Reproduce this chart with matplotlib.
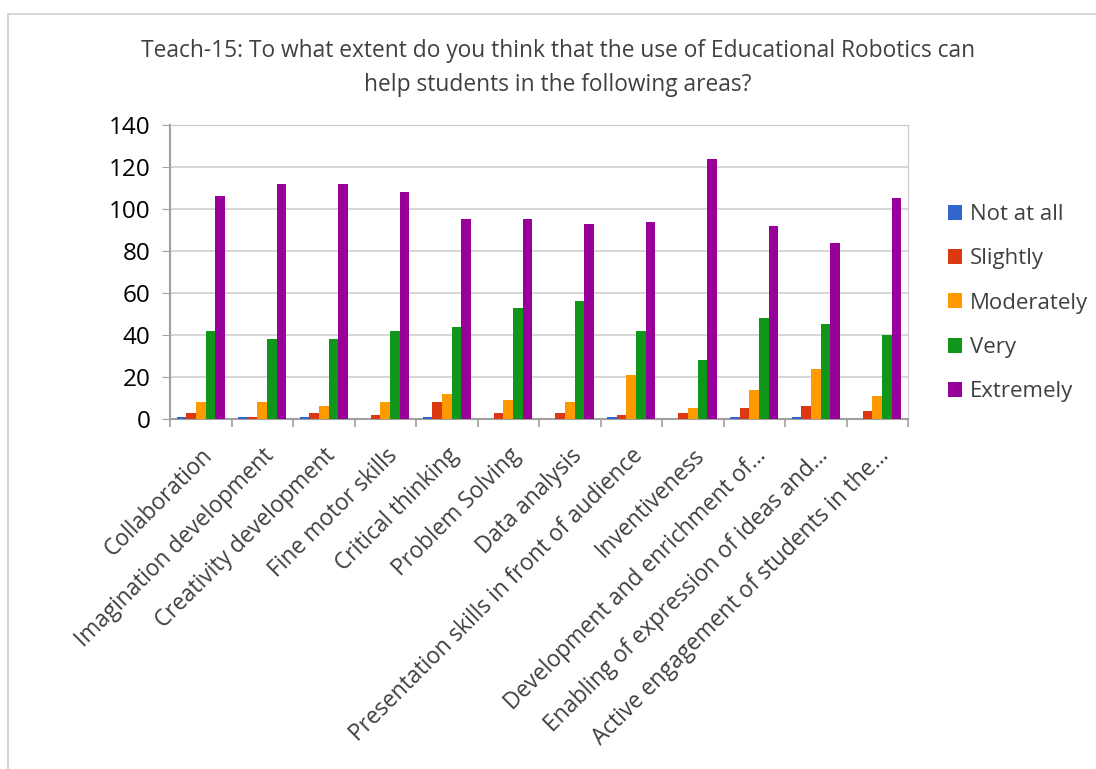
import matplotlib
matplotlib.use("Agg")
import matplotlib.pyplot as plt
import numpy as np
from matplotlib.patches import Rectangle

plt.rcParams['font.family'] = ['Open Sans', 'DejaVu Sans']

categories = ["Collaboration", "Imagination development", "Creativity development",
              "Fine motor skills", "Critical thinking", "Problem Solving", "Data analysis",
              "Presentation skills in front of audience", "Inventiveness",
              "Development and enrichment of…", "Enabling of expression of ideas and…",
              "Active engagement of students in the…"]
series_names = ["Not at all", "Slightly", "Moderately", "Very", "Extremely"]
not_at_all = [1, 1, 1, 0, 1, 0, 0, 1, 0, 1, 1, 0]
slightly = [3, 1, 3, 2, 8, 3, 3, 2, 3, 5, 6, 4]
moderately = [8, 8, 6, 8, 12, 9, 8, 21, 5, 14, 24, 11]
very = [42, 38, 38, 42, 44, 53, 56, 42, 28, 48, 45, 40]
extremely = [106, 112, 112, 108, 95, 95, 93, 94, 124, 92, 84, 105]
colors = ["#3366CC", "#DC3912", "#FF9900", "#109618", "#990099"]

data = [not_at_all, slightly, moderately, very, extremely]

fig = plt.figure(figsize=(10.96, 7.69), dpi=100)
fig.patches.append(Rectangle((8/1096, -0.01), 1.1, 1 - 14/769 + 0.01, transform=fig.transFigure,
                             fill=False, edgecolor="#D0D0D0", linewidth=1.2))
ax = fig.add_axes([170/1096, 1 - 419/769, (908 - 170)/1096, (419 - 125)/769])

n = len(categories)
x = np.arange(n)
w = 0.155
for i, (vals, c, name) in enumerate(zip(data, colors, series_names)):
    ax.bar(x + (i - 2) * w, vals, width=w, color=c, label=name, zorder=3)

ax.set_xlim(-0.5, n - 0.5)
ax.set_ylim(0, 140)
ax.set_yticks(np.arange(0, 141, 20))
ax.tick_params(axis='y', labelsize=17.5, length=6, color="#A0A0A0", pad=8, labelcolor="#000000")
ax.yaxis.grid(True, color="#D0D0D0", linewidth=1.2, zorder=0)
ax.set_xticks(x)
ax.set_xticklabels(categories, rotation=45, ha='right', rotation_mode='anchor', fontsize=16.3, color="#404040")
ax.tick_params(axis='x', length=0, pad=18)
ax.set_xticks(np.arange(-0.5, n, 1), minor=True)
ax.tick_params(axis='x', which='minor', length=6, color="#A0A0A0", width=1.2)
for s in ['top', 'right']:
    ax.spines[s].set_color("#C8C8C8")
for s in ['left', 'bottom']:
    ax.spines[s].set_color("#A0A0A0")
    ax.spines[s].set_linewidth(1.5)

fig.text(558/1096, 1 - 51/769, "Teach-15: To what extent do you think that the use of Educational Robotics can",
         ha='center', va='center', fontsize=16.4, color="#404040")
fig.text(558/1096, 1 - 85/769, "help students in the following areas?",
         ha='center', va='center', fontsize=16.4, color="#404040")

leg = ax.legend(loc='upper left', bbox_to_anchor=(928/1096, 1 - 184/769), bbox_transform=fig.transFigure,
                frameon=False, fontsize=16, handlelength=0.65, handleheight=0.65,
                handletextpad=0.35, labelspacing=1.05)
for t in leg.get_texts():
    t.set_color("#404040")

fig.savefig("out.png", dpi=100)
